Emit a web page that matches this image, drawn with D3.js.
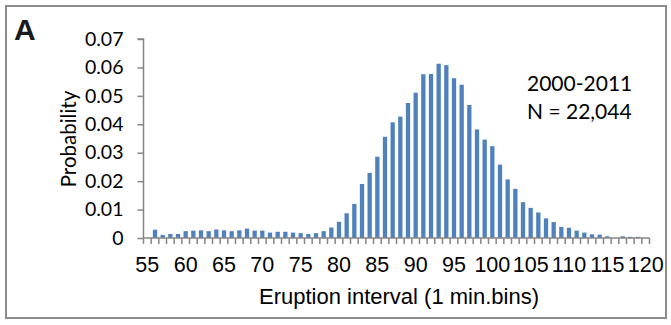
<!DOCTYPE html>
<html><head><meta charset="utf-8">
<script src="https://cdn.jsdelivr.net/npm/d3@7"></script>
<style>html,body{margin:0;padding:0;background:#fff;}svg{display:block;}</style>
</head><body>
<svg id="chart" width="671" height="325"></svg>
<script>
const categories = [55,56,57,58,59,60,61,62,63,64,65,66,67,68,69,70,71,72,73,74,75,76,77,78,79,80,81,82,83,84,85,86,87,88,89,90,91,92,93,94,95,96,97,98,99,100,101,102,103,104,105,106,107,108,109,110,111,112,113,114,115,116,117,118,119,120];
const probability = [0,0.0029,0.0011,0.0014,0.0014,0.0024,0.0026,0.0027,0.0024,0.0030,0.0027,0.0024,0.0027,0.0033,0.0026,0.0026,0.0019,0.0022,0.0022,0.0019,0.0017,0.0014,0.0017,0.0024,0.0037,0.0057,0.0087,0.0120,0.0190,0.0229,0.0286,0.0356,0.0407,0.0427,0.0475,0.0511,0.0576,0.0577,0.0613,0.0608,0.0562,0.0539,0.0468,0.0382,0.0346,0.0323,0.0258,0.0206,0.0173,0.0126,0.0106,0.0090,0.0069,0.0056,0.0039,0.0036,0.0026,0.0019,0.0013,0.0012,0.0006,0,0.0006,0.0004,0.0004,0];
const yTicks = [0,0.01,0.02,0.03,0.04,0.05,0.06,0.07];
const yTickLabels = ["0","0.01","0.02","0.03","0.04","0.05","0.06","0.07"];
const xLabelCats = [55,60,65,70,75,80,85,90,95,100,105,110,115,120];
const panelLabel = "A";
const annotation = ["2000-2011","N = 22,044"];
const xTitle = "Eruption interval (1 min.bins)";
const yTitle = "Probability";

const svg = d3.select("#chart");
const axisColor = "#868686";
const calibri = "Lato, 'Open Sans', sans-serif";
const arial = "'Liberation Sans', Arial, sans-serif";

// frame
svg.append("rect").attr("x",6).attr("y",6).attr("width",660).attr("height",312)
  .attr("fill","none").attr("stroke","#8c8c8c").attr("stroke-width",2);

const pad = 0.44;
const x = d3.scaleBand().domain(categories).range([143.5,649.5]).paddingInner(pad).paddingOuter(pad/2);
const y = d3.scaleLinear().domain([0,0.07]).range([238,39]);

// bars
svg.append("g").selectAll("rect").data(categories).join("rect")
  .attr("x",d=>x(d)).attr("width",x.bandwidth())
  .attr("y",(d,i)=>y(probability[i])).attr("height",(d,i)=>y(0)-y(probability[i]))
  .attr("fill","#4F81BD");

// y axis
const yAxis = d3.axisLeft(y).tickValues(yTicks).tickSize(6).tickPadding(14)
  .tickFormat((d,i)=>yTickLabels[i]);
const gy = svg.append("g").attr("transform",`translate(${x.range()[0]},0)`).call(yAxis);
gy.select(".domain").attr("stroke",axisColor).attr("stroke-width",1.5).attr("d",`M-6,${y(0.07)}H0V${y(0)}`);
gy.selectAll(".tick line").attr("stroke",axisColor).attr("stroke-width",1.5);
gy.selectAll(".tick text").attr("font-family",calibri).attr("font-size",19.5).attr("fill","#000");

// x axis baseline + boundary ticks
const step = x.step();
const gx = svg.append("g");
gx.append("line").attr("x1",x.range()[0]).attr("x2",x.range()[1]).attr("y1",y(0)).attr("y2",y(0))
  .attr("stroke",axisColor).attr("stroke-width",1.5);
const boundaries = categories.map(c=>x(c) - step*pad/2).concat([x.range()[1]]);
gx.selectAll("line.tk").data(boundaries).join("line").attr("class","tk")
  .attr("x1",d=>d).attr("x2",d=>d).attr("y1",y(0)).attr("y2",y(0)+6)
  .attr("stroke",axisColor).attr("stroke-width",1.5);
gx.selectAll("text").data(xLabelCats).join("text")
  .attr("x",d=>x(d)+x.bandwidth()/2).attr("y",272)
  .attr("text-anchor","middle").attr("font-family",arial).attr("font-size",21.5).attr("fill","#000")
  .text(d=>d);

// titles
svg.append("text").attr("x",399).attr("y",304).attr("text-anchor","middle")
  .attr("font-family",arial).attr("font-size",22).attr("fill","#000").text(xTitle);
svg.append("text").attr("transform","translate(76,139) rotate(-90)").attr("text-anchor","middle")
  .attr("font-family",calibri).attr("font-size",20.5).attr("fill","#000").text(yTitle);
svg.append("text").attr("x",14).attr("y",40).attr("font-family",arial).attr("font-weight","bold")
  .attr("font-size",30).attr("fill","#1a1a1a").text(panelLabel);
svg.selectAll("text.ann").data(annotation).join("text").attr("class","ann")
  .attr("x",527).attr("y",(d,i)=>91+i*28).attr("font-family",calibri).attr("font-size",21).attr("fill","#000")
  .text(d=>d);
</script>
</body></html>
